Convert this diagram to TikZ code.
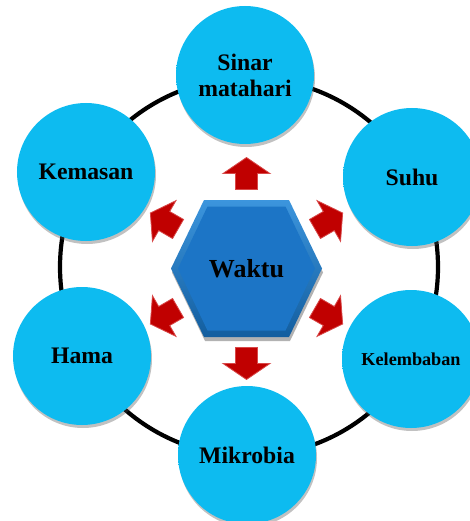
\documentclass[tikz,border=0pt]{standalone}
\usepackage{fontspec}
\setmainfont{Liberation Serif}
\usetikzlibrary{shadows}
\definecolor{cyanmain}{HTML}{0DBBF0}
\definecolor{cyanlight}{HTML}{3CCBF6}
\definecolor{cyanedge}{HTML}{0A93C8}
\definecolor{hexmain}{HTML}{1C75C6}
\definecolor{hexlight}{HTML}{3C95DD}
\definecolor{hexdark}{HTML}{135E9F}
\definecolor{arrowred}{HTML}{C00000}
\definecolor{arrowedge}{HTML}{D84848}
\pgfdeclareradialshading{bubbleshade}{\pgfpoint{0bp}{0bp}}{%
  color(0bp)=(cyanmain); color(42bp)=(cyanmain); color(46bp)=(cyanlight);
  color(49bp)=(cyanedge); color(50bp)=(cyanedge)}
\tikzset{
  ring/.style={line width=4.2bp, black},
  bubble/.style={circle, minimum size=138bp, inner sep=0pt, align=center,
    shading=bubbleshade,
    drop shadow={shadow xshift=1bp, shadow yshift=-3bp, opacity=.35, fill=black!70},
    font=\bfseries\fontsize{23.7bp}{26bp}\selectfont},
  smalltext/.style={font=\bfseries\fontsize{18.2bp}{20bp}\selectfont},
  blockarrow/.pic={
    \fill[arrowred, draw=arrowedge, line width=0.8bp]
      (-16,-11) -- (0,-11) -- (0,-23.5) -- (16,0) -- (0,23.5) -- (0,11) -- (-16,11) -- cycle;}
}
\begin{document}
\begin{tikzpicture}[x=1bp,y=-1bp]
\useasboundingbox (0,0) rectangle (470,521);
\clip (0,0) rectangle (470,521);
% ring
\draw[ring] (249,267) circle[radius=189bp];
% circles
\node[bubble] (sinar) at (245,75) {Sinar\\matahari};
\node[bubble] (suhu) at (412,177) {Suhu};
\node[bubble, smalltext] (kelembaban) at (411,359) {Kelembaban};
\node[bubble] (mikrobia) at (247,455) {Mikrobia};
\node[bubble] (hama) at (82,356) {Hama};
\node[bubble] (kemasan) at (86,172) {Kemasan};
% hexagon
\begin{scope}[shift={(246.5,268.5)}]
  \fill[black, opacity=.3] (-74.5,4) -- (-41.5,72.5) -- (43.5,72.5) -- (76.5,4) -- (43.5,-64.5) -- (-41.5,-64.5) -- cycle;
  \shade[top color=hexlight, bottom color=hexdark]
    (-75.5,0) -- (-42.5,68.5) -- (42.5,68.5) -- (75.5,0) -- (42.5,-68.5) -- (-42.5,-68.5) -- cycle;
  \fill[hexmain] (-68.5,0) -- (-39,62) -- (39,62) -- (68.5,0) -- (39,-62) -- (-39,-62) -- cycle;
\end{scope}
\node[font=\bfseries\fontsize{26bp}{28bp}\selectfont] (waktu) at (246.5,268.5) {Waktu};
% arrows
\pic[rotate=90] at (246.5,173.5) {blockarrow};
\pic[rotate=30] at (328.8,221) {blockarrow};
\pic[rotate=-30] at (328.8,316) {blockarrow};
\pic[rotate=-90] at (246.5,363.5) {blockarrow};
\pic[rotate=210] at (164.2,316) {blockarrow};
\pic[rotate=150] at (164.2,221) {blockarrow};
\end{tikzpicture}
\end{document}
